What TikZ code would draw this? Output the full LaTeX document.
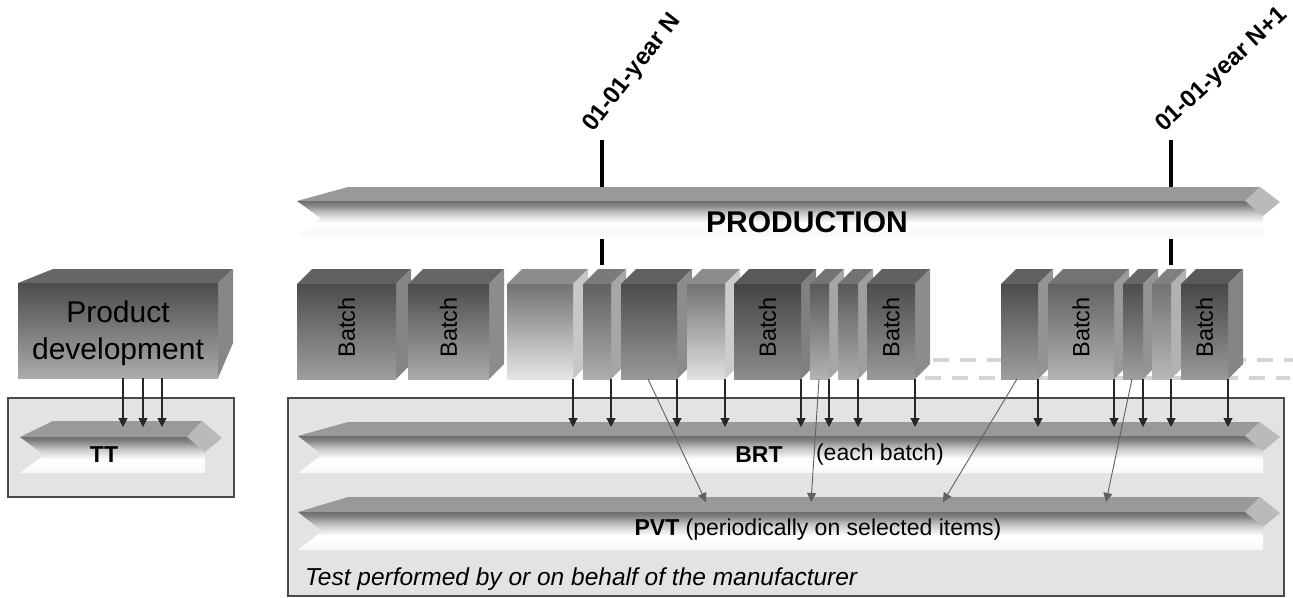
\documentclass[tikz,border=0pt]{standalone}
\usepackage{fontspec}
\setmainfont{Liberation Sans}
\usetikzlibrary{arrows.meta}
\pgfdeclareverticalshading{frontshade}{100bp}{color(0bp)=(black!3); color(25bp)=(black!3); color(44bp)=(white); color(58bp)=(black!22); color(69bp)=(black!48); color(75bp)=(black!57); color(100bp)=(black!57)}
\definecolor{boxgray}{HTML}{E3E3E3}
\definecolor{boxline}{HTML}{4A4A4A}
\newcommand\mycube[7]{%
  \fill[#7] (#2,284) -- ({#2+15},269) -- ({#3+15},269) -- (#3,284) -- cycle;
  \fill[#6] (#3,284) -- ({#3+15},269) -- ({#3+15},364) -- (#3,379) -- cycle;
  \node[inner sep=0pt, outer sep=0pt, minimum width={(#3-#2)*1pt}, minimum height=95pt,
        anchor=north west, top color=#4, bottom color=#5] (#1) at (#2,284) {};}
\newcommand\myband[7]{%
  \fill[bandtop] (#2,#5) -- ({#2+#7},#4) -- ({#3-20},#4) -- ({#3-35},#5) -- cycle;
  \fill[bandtip] ({#3-20},#4) -- (#3,{#5+1}) -- ({#3-17},{#5+15}) -- ({#3-35},#5) -- cycle;
  \shade[shading=frontshade] (#2,#5) -- ({#3-35},#5) -- ({#3-17},{#5+15}) -- ({#3-17},#6) -- (#2,#6) -- ({#2+24},{(#5+#6)/2}) -- cycle;
  \coordinate (#1) at ({(#2+#3)/2},{(#5+#6)/2});}
\begin{document}
\begin{tikzpicture}[x=1pt,y=-1pt,
  outerbox/.style={fill=boxgray, draw=boxline, line width=1.3pt},
  bandtop/.style={fill=black!40},
  bandtip/.style={fill=black!27},
  blkarrow/.style={draw=black!85, line width=1.1pt, -{Triangle[length=9pt,width=9pt]}},
  selarrow/.style={draw=black!62, line width=0.9pt, -{Triangle[length=9pt,width=9pt]}},
  marker/.style={line width=3.2pt, draw=black},
  dashline/.style={draw=black!17, line width=4pt, dash pattern=on 16pt off 11pt},
  batchlabel/.style={rotate=90, font=\fontsize{23.5}{27}\selectfont},
  datelabel/.style={inner sep=0pt, anchor=base west, font=\bfseries\fontsize{24}{28}\selectfont},
  lbl/.style={inner sep=0pt, font=\fontsize{23}{27}\selectfont}]
\useasboundingbox (0,0) rectangle (1293,597);

% containers
\draw[outerbox] (8,398) rectangle (234,497);
\draw[outerbox] (288,398) rectangle (1284,596);

% bands
\myband{tt}{20}{222}{421}{437}{473}{33}
\myband{brt}{298}{1280}{422}{436}{473}{50}
\myband{pvt}{298}{1280}{497}{512}{550}{50}

% timeline markers (upper part)
\coordinate (m1a) at (602,140);
\coordinate (m1b) at (602,192);
\coordinate (m2a) at (1171,140);
\coordinate (m2b) at (1171,192);
\draw[marker] (m1a) -- (m1b);
\draw[marker] (m2a) -- (m2b);

% production band
\myband{prod}{297}{1280}{187}{201}{236}{51}
\node[inner sep=0pt, font=\bfseries\fontsize{30}{34}\selectfont] (prodlbl) at (807,222) {PRODUCTION};

% markers (lower part)
\coordinate (m1c) at (602,239);
\coordinate (m1d) at (602,265);
\coordinate (m2c) at (1171,239);
\coordinate (m2d) at (1171,265);
\draw[marker] (m1c) -- (m1d);
\draw[marker] (m2c) -- (m2d);

% date labels
\node[datelabel, rotate=52] (d1) at (593,133) {01-01-year N};
\node[datelabel, rotate=43] (d2) at (1164,133) {01-01-year N+1};

% dashed lines
\coordinate (da1) at (933,360);
\coordinate (da2) at (1293,360);
\coordinate (db1) at (925,378);
\coordinate (db2) at (1290,378);
\draw[dashline] (da1) -- (da2);
\draw[dashline] (db1) -- (db2);

% product development cube
\fill[black!60] (18,283) -- (53,269) -- (233,269) -- (218,283) -- cycle;
\fill[black!47] (218,283) -- (233,269) -- (233,343) -- (218,378) -- cycle;
\node[inner sep=0pt, outer sep=0pt, minimum width=200pt, minimum height=95pt, anchor=north west,
      top color=black!70, bottom color=black!33] (pd) at (18,283) {};
\node[align=center, inner sep=0pt, font=\fontsize{30}{37}\selectfont] (pdlbl) at (118,333) {Product\\development};

% batch blocks
\mycube{B1}{297}{396}{black!70}{black!38}{black!48}{black!62}
\mycube{B2}{408}{489}{black!70}{black!33}{black!45}{black!60}
\mycube{B3}{507}{573}{black!55}{black!10}{black!22}{black!45}
\mycube{B4}{583}{611}{black!62}{black!32}{black!35}{black!52}
\mycube{B5}{621}{677}{black!70}{black!40}{black!45}{black!62}
\mycube{B6}{687}{725}{black!55}{black!12}{black!20}{black!45}
\mycube{B7}{734}{801}{black!73}{black!45}{black!50}{black!65}
\mycube{B8}{810}{829}{black!65}{black!30}{black!35}{black!55}
\mycube{B9}{838}{858}{black!65}{black!32}{black!38}{black!55}
\mycube{B10}{867}{915}{black!70}{black!40}{black!45}{black!62}
\mycube{B11}{1001}{1038}{black!70}{black!38}{black!42}{black!62}
\mycube{B12}{1048}{1114}{black!62}{black!30}{black!40}{black!55}
\mycube{B13}{1123}{1143}{black!70}{black!38}{black!42}{black!60}
\mycube{B14}{1152}{1171}{black!55}{black!28}{black!30}{black!50}
\mycube{B15}{1181}{1228}{black!72}{black!40}{black!48}{black!65}

\foreach \b in {B1,B2,B7,B10,B12,B15}
  \node[batchlabel] at ([yshift=4pt]\b.center) {Batch};

% band labels
\node[lbl, font=\bfseries\fontsize{23}{27}\selectfont] (ttlbl) at (104,455) {TT};
\node[lbl, font=\bfseries\fontsize{23}{27}\selectfont] (brtlbl) at (759,455) {BRT};
\node[lbl] (brtnote) at (880,455) {(each batch)};
\node[lbl] (pvtlbl) at (818,530) {\textbf{PVT} (periodically on selected items)};
\node[inner sep=0pt, anchor=base west, font=\itshape\fontsize{24.5}{28}\selectfont] (note) at (305,585) {Test performed by or on behalf of the manufacturer};

% entry levels
\coordinate (brtin) at (0,427);
\coordinate (ttin) at (0,427);

% product development -> TT
\coordinate (pd1) at (123,378);
\coordinate (pd2) at (143,378);
\coordinate (pd3) at (162,378);
\foreach \p in {pd1,pd2,pd3}
  \draw[blkarrow] (\p) -- (\p |- ttin);

% batches -> BRT
\foreach \b in {B3,B4,B5,B6,B7,B8,B9,B10,B11,B12,B13,B14,B15}
  \draw[blkarrow] (\b.south east) -- (\b.south east |- brtin);

% selected items -> PVT
\coordinate (p1) at (706,502);
\coordinate (p2) at (811,502);
\coordinate (p3) at (943,502);
\coordinate (p4) at (1106,502);
\coordinate (s1) at (648,379);
\coordinate (s2) at (819,379);
\coordinate (s3) at (1017,379);
\coordinate (s4) at (1132,379);
\draw[selarrow] (s1) -- (p1);
\draw[selarrow] (s2) -- (p2);
\draw[selarrow] (s3) -- (p3);
\draw[selarrow] (s4) -- (p4);
\end{tikzpicture}
\end{document}
